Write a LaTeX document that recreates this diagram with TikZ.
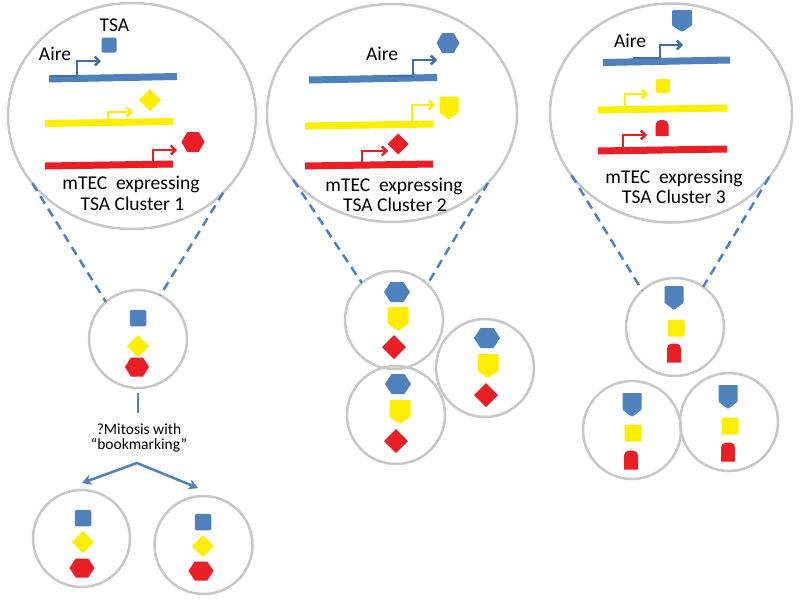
\documentclass[tikz,border=0pt]{standalone}
\usepackage{fontspec}
\setmainfont{Carlito}
\usetikzlibrary{shapes.geometric,arrows.meta}
\definecolor{tblue}{RGB}{79,129,189}
\definecolor{tyellow}{RGB}{255,238,0}
\definecolor{tred}{RGB}{234,30,37}
\definecolor{ringgray}{RGB}{200,200,200}
% shape helpers: colour, x, y, sizes (pixel units)
\newcommand\TSAsq[4]{\fill[#1,rounded corners=1.5pt] ({#2-#4/2},{#3-#4/2}) rectangle ({#2+#4/2},{#3+#4/2});}
\newcommand\TSAdia[4]{\fill[#1] ({#2-#4},#3) -- (#2,{#3-#4}) -- ({#2+#4},#3) -- (#2,{#3+#4}) -- cycle;}
\newcommand\TSAhex[5]{\fill[#1] ({#2-#4/2},#3) -- ({#2-#4/4},{#3-#5/2}) -- ({#2+#4/4},{#3-#5/2}) -- ({#2+#4/2},#3) -- ({#2+#4/4},{#3+#5/2}) -- ({#2-#4/4},{#3+#5/2}) -- cycle;}
\newcommand\TSAshield[5]{\fill[#1,rounded corners=1pt] ({#2-#4/2},{#3-#5/2}) -- ({#2+#4/2},{#3-#5/2}) -- ({#2+#4/2},{#3+0.2*#5}) -- (#2,{#3+#5/2}) -- ({#2-#4/2},{#3+0.2*#5}) -- cycle;}
\newcommand\TSAcap[5]{\fill[#1] ({#2-#4/2},{#3+#5/2}) {[rounded corners=5pt] -- ({#2-#4/2},{#3-#5/2}) -- ({#2+#4/2},{#3-#5/2})} -- ({#2+#4/2},{#3+#5/2}) -- cycle;}
\newcommand\TSAprom[6]{\draw[#1,promo] (#2,#3) -- (#4,#3) -- (#4,#5) -- (#6,#5);}
\begin{document}
\begin{tikzpicture}[x=1pt,y=-1pt,
  ring/.style={draw=ringgray, line width=2.5pt, inner sep=0pt, outer sep=0pt},
  zoomline/.style={draw=tblue, line width=2.5pt, dash pattern=on 9pt off 6pt},
  bar/.style={line width=7pt},
  promo/.style={line width=2.4pt, -{Straight Barb[length=4.5pt,width=9pt]}},
  lbl/.style={inner sep=0pt, anchor=base, font=\fontsize{19.5}{23}\selectfont},
  slbl/.style={inner sep=0pt, anchor=base, font=\fontsize{15.5}{18}\selectfont}]
\useasboundingbox[fill=white] (0,0) rectangle (800,603);

% ---------- big circles ----------
\node[ring, ellipse, minimum width=248pt, minimum height=226pt] (big1) at (132,116) {};
\node[ring, ellipse, minimum width=250pt, minimum height=218pt] (big2) at (392,113) {};
\node[ring, ellipse, minimum width=242pt, minimum height=219pt] (big3) at (671,113) {};

% ---------- small circles ----------
\node[ring, circle, minimum size=98pt] (s1) at (138,339) {};
\node[ring, circle, minimum size=97pt] (s1l) at (81.5,538.5) {};
\node[ring, circle, minimum size=98pt] (s1r) at (203.5,545) {};
\node[ring, circle, minimum size=98pt] (s2a) at (394,320) {};
\node[ring, circle, minimum size=98pt] (s2b) at (485,368) {};
\node[ring, circle, minimum size=98pt] (s2c) at (396,415) {};
\node[ring, circle, minimum size=98pt] (s3a) at (675,327) {};
\node[ring, circle, minimum size=98pt] (s3b) at (632,430) {};
\node[ring, circle, minimum size=98pt] (s3c) at (729,422) {};

% ---------- dashed zoom lines ----------
\draw[zoomline] (big1.214) -- (s1.131);
\draw[zoomline] (big1.320) -- (s1.63);
\draw[zoomline] (big2.214) -- (s2a.131);
\draw[zoomline] (big2.324) -- (s2a.47);
\draw[zoomline] (big3.212) -- (s3a.132);
\draw[zoomline] (big3.327) -- (s3a.55);

% ---------- cluster 1 (big) ----------
\draw[tblue,bar] (49,79) -- (177,76.5);
\draw[tyellow,bar] (45,123.5) -- (173,121.5);
\draw[tred,bar] (45,166) -- (173,164);
\TSAprom{tblue!85!black}{50}{76}{77}{61}{101}
\TSAprom{tyellow}{108}{120}{108}{112}{133}
\TSAprom{tred}{153}{162}{153}{150}{177}
\TSAsq{tblue}{109}{45}{15}
\TSAdia{tyellow}{150}{100}{11}
\TSAhex{tred}{193}{142}{23}{20}
\node[lbl] (tsa) at (114.5,31) {TSA};
\node[lbl] (aire1) at (55,60) {Aire};
\node[lbl] (m1a) at (131,189.5) {mTEC\ \ expressing};
\node[lbl] (m1b) at (132.5,210.5) {TSA Cluster 1};

% ---------- cluster 2 (big) ----------
\draw[tblue,bar] (309,80) -- (437,77.5);
\draw[tyellow,bar] (305,126) -- (433,124);
\draw[tred,bar] (305,166) -- (433,164);
\TSAprom{tblue!85!black}{388}{76}{413}{60}{437}
\TSAprom{tyellow}{387}{122}{412}{105}{435}
\TSAprom{tred}{362}{162}{362}{151}{388}
\TSAhex{tblue}{448}{43}{23}{20}
\TSAshield{tyellow}{449}{108}{19}{23}
\TSAdia{tred}{398}{144}{10.5}
\node[lbl] (aire2) at (382,60.5) {Aire};
\node[lbl] (m2a) at (394,191) {mTEC\ \ expressing};
\node[lbl] (m2b) at (395,211.5) {TSA Cluster 2};

% ---------- cluster 3 (big) ----------
\draw[tblue,bar] (603,62.5) -- (730,60);
\draw[tyellow,bar] (598,110) -- (727,108);
\draw[tred,bar] (598,151) -- (727,149);
\TSAprom{tblue!85!black}{633}{58}{660}{45}{683}
\TSAprom{tyellow}{625}{106}{625}{94}{648}
\TSAprom{tred}{623}{147}{623}{135}{647}
\TSAshield{tblue}{682}{21}{20}{22}
\TSAsq{tyellow}{663}{86}{14}
\TSAcap{tred}{662}{128}{13}{16}
\node[lbl] (aire3) at (630,47.5) {Aire};
\node[lbl] (m3a) at (674,183) {mTEC\ \ expressing};
\node[lbl] (m3b) at (674,203.5) {TSA Cluster 3};

% ---------- small cells, cluster 1 ----------
\TSAsq{tblue}{138}{318}{16.5}
\TSAdia{tyellow}{138}{346}{11}
\TSAhex{tred}{137}{367}{24}{19}
\TSAsq{tblue}{83}{518}{16.5}
\TSAdia{tyellow}{83}{542}{11}
\TSAhex{tred}{82}{568}{25}{19}
\TSAsq{tblue}{203}{522}{16.5}
\TSAdia{tyellow}{203}{546}{11}
\TSAhex{tred}{201}{571}{25}{19}

% ---------- small cells, cluster 2 ----------
\TSAhex{tblue}{397}{292}{26}{20}
\TSAshield{tyellow}{398}{319}{21}{24}
\TSAdia{tred}{394}{347}{12}
\TSAhex{tblue}{487}{338}{26}{20}
\TSAshield{tyellow}{488}{366}{21}{24}
\TSAdia{tred}{486}{395}{12}
\TSAhex{tblue}{398}{384}{26}{20}
\TSAshield{tyellow}{400}{412}{21}{24}
\TSAdia{tred}{396}{441}{12}

% ---------- small cells, cluster 3 ----------
\TSAshield{tblue}{674}{298}{19}{24}
\TSAsq{tyellow}{676}{328}{17}
\TSAcap{tred}{674}{353}{14}{19}
\TSAshield{tblue}{632}{405}{19}{24}
\TSAsq{tyellow}{633}{433}{17}
\TSAcap{tred}{631}{460}{14}{19}
\TSAshield{tblue}{728}{397}{19}{24}
\TSAsq{tyellow}{730}{426}{17}
\TSAcap{tred}{728}{452}{14}{19}

% ---------- mitosis ----------
\draw[tblue, line width=2.5pt] ([yshift=-5pt]s1.south) -- ([yshift=-25pt]s1.south);
\node[slbl] (mit1) at (139,434.7) {?Mitosis with};
\node[slbl] (mit2) at (139,449.7) {“bookmarking”};
\coordinate (apex) at (137,463);
\coordinate (al) at (82,483);
\coordinate (ar) at (198,488);
\draw[tblue, line width=2.5pt, line join=round,
  {Stealth[length=9pt,width=10pt,inset=2pt]}-{Stealth[length=9pt,width=10pt,inset=2pt]}]
  (al) -- (apex) -- (ar);
\end{tikzpicture}
\end{document}
